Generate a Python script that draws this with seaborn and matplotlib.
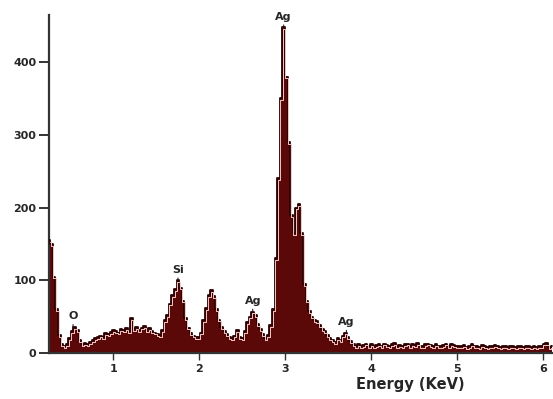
import numpy as np
import matplotlib
matplotlib.use("Agg")
import matplotlib.pyplot as plt
import seaborn as sns
import pandas as pd

# Energy grid (keV), 0.03 keV channels from 0.25 to 6.10
energy_start = 0.25
energy_step = 0.03
counts = [
    155, 150, 105, 60, 25, 12, 9, 12, 20, 30,      # 0.25-0.52
    36, 32, 18, 12, 14, 12, 15, 18, 20, 22,        # 0.55-0.82
    24, 22, 27, 26, 29, 31, 30, 28, 33, 31,        # 0.85-1.12
    34, 30, 48, 33, 36, 31, 35, 37, 32, 34,        # 1.15-1.42
    30, 28, 26, 25, 32, 45, 52, 68, 80, 88,        # 1.45-1.72
    100, 90, 72, 48, 35, 27, 24, 22, 22, 28,       # 1.75-2.02
    45, 62, 80, 87, 78, 60, 46, 36, 30, 26,        # 2.05-2.32
    22, 21, 24, 32, 22, 20, 30, 42, 50, 57,        # 2.35-2.62
    52, 40, 33, 26, 20, 25, 38, 60, 130, 240,      # 2.65-2.92
    350, 448, 380, 290, 190, 165, 200, 205, 165, 95,  # 2.95-3.22
    72, 58, 50, 45, 44, 38, 33, 30, 25, 20,        # 3.25-3.52
    18, 15, 20, 18, 24, 28, 22, 16, 12, 10,        # 3.55-3.82
    12, 10, 11, 13, 10, 12, 9, 11, 12, 10,         # 3.85-4.12
    13, 11, 10, 12, 14, 10, 11, 9, 12, 13,         # 4.15-4.42
    10, 12, 11, 14, 10, 9, 12, 13, 11, 10,         # 4.45-4.72
    12, 10, 9, 11, 13, 10, 12, 11, 9, 10,          # 4.75-5.02
    9, 11, 8, 10, 12, 9, 10, 8, 11, 9,             # 5.05-5.32
    8, 10, 9, 11, 9, 8, 10, 9, 8, 10,              # 5.35-5.62
    9, 8, 10, 9, 8, 10, 9, 8, 9, 8,                # 5.65-5.92
    10, 9, 13, 14, 8, 9,                           # 5.95-6.10
]
energy = np.round(energy_start + energy_step * np.arange(len(counts)), 3)

peak_labels = ["O", "Si", "Ag", "Ag", "Ag"]
peak_energy = [0.53, 1.75, 2.98, 2.62, 3.71]
peak_counts = [36, 100, 448, 57, 28]

x_ticks = [1, 2, 3, 4, 5, 6]
y_ticks = [0, 100, 200, 300, 400]

df = pd.DataFrame({"Energy": energy, "Counts": counts})

sns.set_style("white")
fig = plt.figure(figsize=(5.53, 3.99), dpi=100)
ax = fig.add_axes([0.0886, 0.1153, 0.9114, 0.8467])

fill_color = "#5a0808"
ax.fill_between(df["Energy"], df["Counts"], step="mid", color=fill_color, lw=0, zorder=2)
sns.lineplot(data=df, x="Energy", y="Counts", ax=ax, drawstyle="steps-mid",
             color="#2a0000", lw=1.3, zorder=3)
sns.lineplot(x=df["Energy"] + 0.006, y=np.array(counts) - 2.5, ax=ax, drawstyle="steps-mid",
             color="#f0c8c8", lw=0.7, zorder=4)

ax.set_xlim(0.25, 6.113)
ax.set_ylim(0, 464.6)

for sp in ["top", "right"]:
    ax.spines[sp].set_visible(False)
for sp in ["left", "bottom"]:
    ax.spines[sp].set_color("#333333")
    ax.spines[sp].set_linewidth(1.6)

ax.set_xticks(x_ticks)
ax.set_yticks(y_ticks)
ax.set_xticklabels([str(t) for t in x_ticks], fontweight="bold", fontsize=8)
ax.set_yticklabels([str(t) for t in y_ticks], fontweight="bold", fontsize=8)
ax.tick_params(axis="y", direction="out", length=7, width=1.4, color="#333333", pad=2, left=True)
ax.tick_params(axis="x", direction="out", length=5, width=1.0, color="#333333", pad=3, bottom=True)

ax.set_xlabel("Energy (KeV)", fontweight="bold", fontsize=10.5)
ax.set_ylabel("")
ax.xaxis.set_label_coords(0.716, -0.07)

for lab, e, c in zip(peak_labels, peak_energy, peak_counts):
    ax.annotate(lab, xy=(e, c), xytext=(0, 4), textcoords="offset points",
                ha="center", va="bottom", fontsize=8, fontweight="bold",
                arrowprops=dict(arrowstyle="-", color="#222222", lw=0.8,
                                shrinkA=0, shrinkB=0))

fig.savefig("out.png", dpi=100)
